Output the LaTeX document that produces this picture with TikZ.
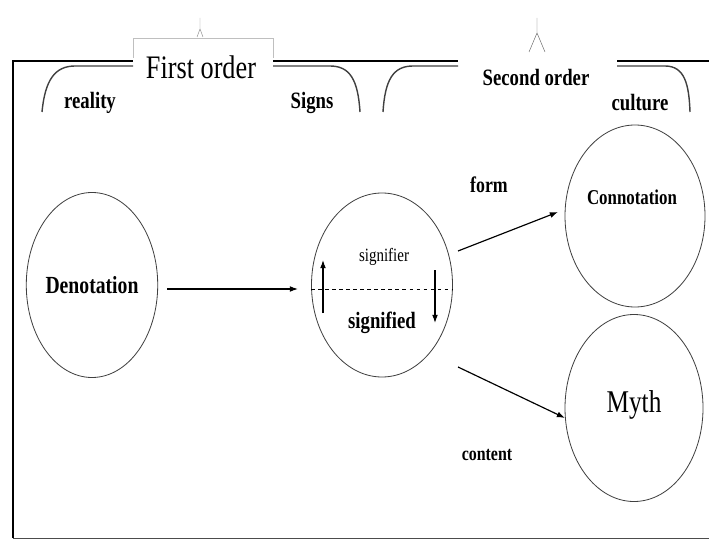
\documentclass[tikz,border=0pt]{standalone}
\usepackage{fontspec}
\setmainfont{Liberation Serif}[FakeStretch=0.8]
\usetikzlibrary{shapes.geometric,calc,arrows.meta}
\newcommand{\fsz}[1]{\fontsize{#1}{#1}\selectfont}

\begin{document}
\begin{tikzpicture}[x=0.03cm,y=-0.03cm,
	oval/.style={ellipse,draw=black!75,line width=0.7pt,inner sep=0pt},
	lbl/.style={inner sep=0pt,font=\bfseries\fsz{20}},
	arr/.style={-{Latex[length=7pt,width=5pt]},line width=1pt}]
	\useasboundingbox (0,0) rectangle (709,540);

	\draw[line width=2.4pt] (13,538) -- (13,61) -- (133,61);
	\draw[line width=2.4pt] (273,61) -- (458,61);
	\draw[line width=2.4pt] (617,61) -- (709,61);
	\draw[black!70,line width=0.8pt] (13,538) -- (709,538);

	\draw[black!75,line width=1.2pt] (42,112) .. controls (45,80) and (55,66) .. (75,66) -- (133,66);
	\draw[black!75,line width=1.2pt] (273,66) -- (330,66) .. controls (350,66) and (358,80) .. (360,112);
	\draw[black!75,line width=1.2pt] (383,112) .. controls (385,80) and (393,66) .. (413,66) -- (458,66);
	\draw[black!75,line width=1.2pt] (617,66) -- (665,66) .. controls (685,66) and (689,85) .. (690,112);

	\draw[black!25] (133,58) -- (133,38) -- (273,38) -- (273,58);
	\draw[black!45] (200,18) -- (200,29) (197,37) -- (200,29) -- (203,37);
	\draw[black!60] (537,18) -- (537,33) (529,52) -- (537,33) -- (545,52);

	\node[inner sep=0pt,font=\fsz{28}] (first) at (201,67) {First order};
	\node[lbl] (second) at (536,77) {Second order};
	\node[lbl] (reality) at (90,103) {reality};
	\node[lbl] (signs) at (312,103) {Signs};
	\node[lbl] (culture) at (640,103) {culture};

	\node[oval,minimum width=3.9cm,minimum height=5.55cm,font=\bfseries\fsz{21}] (den) at (92,285) {Denotation};
	\node[oval,minimum width=4.23cm,minimum height=5.52cm] (sig) at (382,285) {};
	\node[oval,minimum width=4.2cm,minimum height=5.46cm] (con) at (635,216) {};
	\node[oval,minimum width=4.14cm,minimum height=5.61cm] (myth) at (634,408) {};

	\node[inner sep=0pt,font=\fsz{16}] (sigtop) at (384,257) {signifier};
	\node[lbl] (sigbot) at (382,323) {signified};
	\node[lbl,font=\bfseries\fsz{18}] (contxt) at (632,197) {Connotation};
	\node[inner sep=0pt,font=\fsz{27}] (mythtxt) at (634,405) {Myth};
	\node[lbl,font=\bfseries\fsz{19}] (form) at (489,185) {form};
	\node[lbl,font=\bfseries\fsz{17}] (content) at (487,455) {content};

	\draw[dashed,line width=0.7pt] ($(sig.west)+(0,4)$) -- ($(sig.east)+(0,4)$);
	\draw[arr] ($(sig.center)+(-59,28)$) -- ($(sig.center)+(-59,-25)$);
	\draw[arr] ($(sig.center)+(53,-15)$) -- ($(sig.center)+(53,38)$);

	\draw[arr] ($(den.center)+(75,4)$) -- ($(sig.center)+(-84,4)$);
	\draw[arr] ($(sig.center)+(76,-34)$) -- ($(con.center)+(-77,-4)$);
	\draw[arr] ($(sig.center)+(76,82)$) -- ($(myth.center)+(-69,10)$);
\end{tikzpicture}
\end{document}
